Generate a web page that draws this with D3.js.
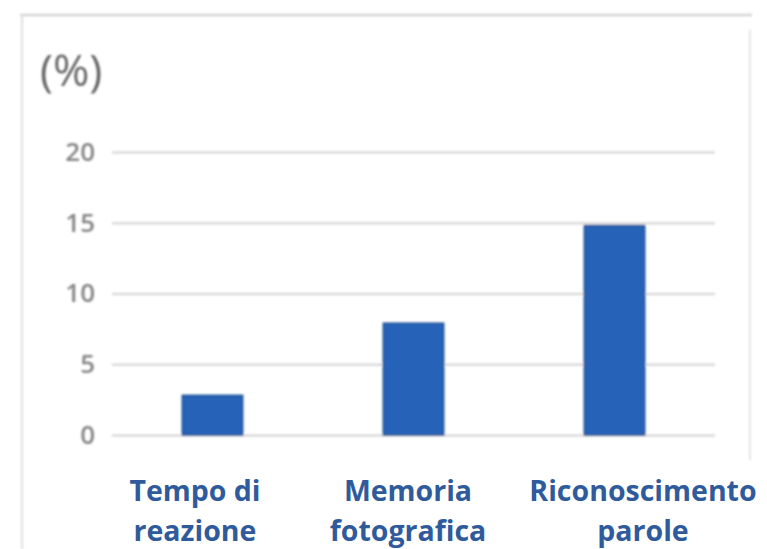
<!DOCTYPE html>
<html>
<head>
<meta charset="utf-8">
<script src="https://cdn.jsdelivr.net/npm/d3@7"></script>
<style>
  html, body { margin: 0; padding: 0; background: #ffffff; }
  svg { display: block; }
</style>
</head>
<body>
<svg id="chart" width="767" height="549"></svg>
<script>
// Percentages per test
const categories = ["Tempo di reazione", "Memoria fotografica", "Riconoscimento parole"];
const labelLines = [["Tempo di", "reazione"], ["Memoria", "fotografica"], ["Riconoscimento", "parole"]];
const values = [2.8, 7.9, 14.8];
const tickValues = [0, 5, 10, 15, 20];
const unitLabel = "(%)";

const svg = d3.select("#chart");

const defs = svg.append("defs");
defs.append("filter").attr("id", "soft")
  .append("feGaussianBlur").attr("stdDeviation", 1.0);

const plot = { left: 112, right: 715, top: 152, bottom: 435 };

const x = d3.scaleBand()
  .domain(categories)
  .range([plot.left, plot.right])
  .paddingInner(0.7)
  .paddingOuter(0.35);

const y = d3.scaleLinear()
  .domain([0, 20])
  .range([plot.bottom, plot.top]);

const g = svg.append("g").attr("filter", "url(#soft)");

// faint frame around the plot panel
g.append("line").attr("x1", 20).attr("x2", 752).attr("y1", 15).attr("y2", 15)
  .attr("stroke", "#d4d4d4").attr("stroke-width", 2.5);
g.append("line").attr("x1", 22).attr("x2", 22).attr("y1", 15).attr("y2", 549)
  .attr("stroke", "#e0e0e0").attr("stroke-width", 2);
g.append("line").attr("x1", 750).attr("x2", 750).attr("y1", 30).attr("y2", 460)
  .attr("stroke", "#e4e4e4").attr("stroke-width", 2);

// gridlines and tick labels
const yAxis = d3.axisLeft(y)
  .tickValues(tickValues)
  .tickSize(-(plot.right - plot.left))
  .tickPadding(17);

const axisG = g.append("g")
  .attr("transform", `translate(${plot.left},0)`)
  .call(yAxis);
axisG.select(".domain").remove();
axisG.selectAll(".tick line")
  .attr("stroke", "#dadada")
  .attr("stroke-width", 2.5);
axisG.selectAll(".tick text")
  .attr("fill", "#858585")
  .attr("font-family", "'Open Sans', sans-serif")
  .attr("font-weight", 600)
  .attr("font-size", 26);

// unit label
g.append("text")
  .attr("x", 40).attr("y", 86)
  .attr("fill", "#666666")
  .attr("font-family", "'Open Sans', sans-serif")
  .attr("font-size", 44)
  .text(unitLabel);

// bars
g.selectAll("rect.bar")
  .data(values)
  .join("rect")
  .attr("class", "bar")
  .attr("x", (d, i) => x(categories[i]))
  .attr("width", x.bandwidth())
  .attr("y", d => y(d))
  .attr("height", d => y(0) - y(d))
  .attr("fill", "#2563b8")
  .attr("stroke", "#1d4f96")
  .attr("stroke-width", 1.5);

// category labels
const labelCenters = [195, 408, 643];
const labels = svg.append("g");
labelLines.forEach((lines, i) => {
  const t = labels.append("text")
    .attr("x", labelCenters[i])
    .attr("text-anchor", "middle")
    .attr("fill", "#2f5b9c")
    .attr("font-family", "'Open Sans', sans-serif")
    .attr("font-weight", "bold")
    .attr("font-size", 28.5);
  lines.forEach((ln, j) => {
    t.append("tspan").attr("x", labelCenters[i]).attr("y", 501 + j * 40).text(ln);
  });
});
</script>
</body>
</html>
